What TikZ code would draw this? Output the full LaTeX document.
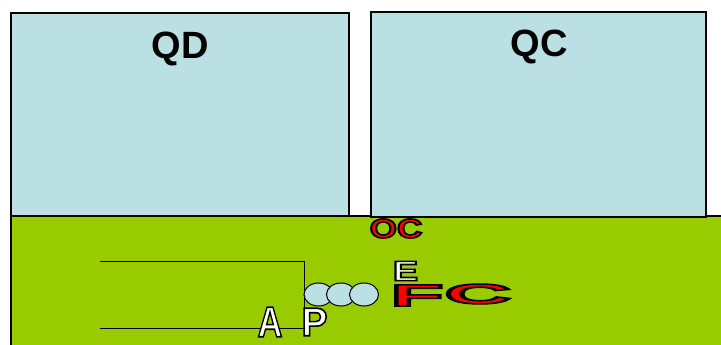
\documentclass[tikz,border=0pt]{standalone}
\usepackage{fontspec}
\setmainfont{Liberation Sans}
\usetikzlibrary{shapes.geometric}
\definecolor{paleblue}{HTML}{BBE0E3}
\definecolor{grass}{HTML}{99CC00}
\definecolor{hotred}{HTML}{FF0000}
% bold letters filled in a colour and stroked in black (text render mode 2)
\newcommand{\outl}[4]{\fontsize{#1}{#1}\selectfont\bfseries\scalebox{#2}[1]{\textcolor{#3}{\special{pdf:code 2 Tr 0 0 0 RG 1.6 w}#4\special{pdf:code 0 Tr}}}}
\begin{document}
\begin{tikzpicture}[x=1pt,y=-1pt,
  panel/.style={draw=black,line width=1.4pt,fill=paleblue},
  title/.style={anchor=base,inner sep=0pt,font=\fontsize{38}{38}\selectfont\bfseries},
  glyph/.style={inner sep=0pt,anchor=center},
  bead/.style={draw=black,line width=1pt,fill=paleblue,ellipse,minimum width=29pt,minimum height=23pt,inner sep=0pt},
  wire/.style={draw=black,line width=1pt}]
\useasboundingbox (0,0) rectangle (721,345);
\fill[white] (0,0) rectangle (721,345);
% ground strip
\draw[line width=1.4pt,fill=grass] (11,360) -- (11,216) -- (730,216) -- (730,360);
% upper panels
\draw[panel] (11,13) rectangle (349,216);
\draw[panel] (371,12) rectangle (706,217);
\node[title] (qd) at (180,59) {QD};
\node[title] (qc) at (539,57) {QC};
% channel outline
\coordinate (w1) at (100,261);
\coordinate (w2) at (304,261);
\coordinate (w3) at (304,328);
\coordinate (w4) at (100,328);
\draw[wire] (w1) -- (w2) -- (w3) -- (w4);
% beads
\node[bead] (b1) at (318.5,294.5) {};
\node[bead] (b2) at (341,294.5) {};
\node[bead] (b3) at (364,294.5) {};
% outlined letters
\node[glyph] (oc) at (396,228.5) {\outl{27}{1.3}{hotred}{OC}};
\node[glyph] (e) at (405.5,271) {\outl{28}{1.35}{white}{E}};
\node[glyph] (f) at (417,295.5) {\outl{31}{2.8}{hotred}{F}};
\node[glyph] (c) at (478,294) {\outl{28}{3.3}{hotred}{C}};
\node[glyph] (a) at (270,322) {\outl{43}{0.8}{white}{A}};
\node[glyph] (p) at (314.5,322) {\outl{40}{0.98}{white}{P}};
\end{tikzpicture}
\end{document}
